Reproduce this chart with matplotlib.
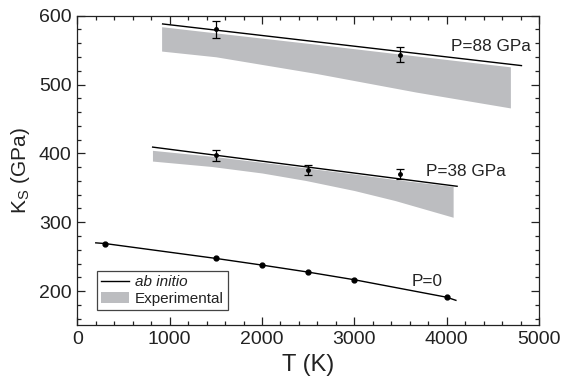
import matplotlib
matplotlib.use("Agg")
import matplotlib.pyplot as plt
from matplotlib.lines import Line2D
from matplotlib.patches import Patch
from matplotlib.ticker import MultipleLocator

plt.rcParams['font.family'] = ['Liberation Sans', 'DejaVu Sans']

# ab initio adiabatic bulk modulus curves (T in K, K_S in GPa)
t_line_p0 = [200, 300, 1500, 2000, 2500, 3000, 4000, 4100]
k_line_p0 = [270.0, 269.0, 247.4, 237.7, 227.5, 216.4, 191.0, 186.5]
t_pts_p0 = [300, 1500, 2000, 2500, 3000, 4000]
k_pts_p0 = [269.0, 247.4, 237.7, 227.5, 216.4, 191.0]

t_line_p38 = [816, 4113]
k_line_p38 = [409.1, 352.2]
t_pts_p38 = [1500, 2500, 3500]
k_pts_p38 = [397.0, 375.8, 370.0]
err_p38 = [8.5, 7.5, 7.5]

t_line_p88 = [924, 4810]
k_line_p88 = [588.0, 527.5]
t_pts_p88 = [1500, 3500]
k_pts_p88 = [580.2, 543.6]
err_p88 = [12.0, 11.0]

# experimental ranges
t_exp_p38 = [814, 1450, 2000, 2470, 3000, 3440, 4070]
k_exp_p38_hi = [404.4, 396.0, 387.0, 379.0, 370.0, 362.0, 352.0]
k_exp_p38_lo = [388.8, 381.0, 371.5, 360.7, 346.0, 331.5, 307.2]

t_exp_p88 = [913, 1500, 2590, 3670, 4690]
k_exp_p88_hi = [584.0, 575.0, 558.5, 541.5, 525.7]
k_exp_p88_lo = [548.6, 540.3, 516.0, 489.0, 466.0]

band_color = '#bcbdc0'
ink = '#222222'

fig = plt.figure(figsize=(5.65, 3.78), dpi=100)
ax = fig.add_axes([0.1368, 0.1390, 0.8172, 0.8195])

for t, lo, hi in [(t_exp_p38, k_exp_p38_lo, k_exp_p38_hi),
                  (t_exp_p88, k_exp_p88_lo, k_exp_p88_hi)]:
    ax.fill_between(t, lo, hi, color=band_color, linewidth=0, zorder=1)

ax.plot(t_line_p0, k_line_p0, color='black', lw=1.0, zorder=3)
ax.plot(t_pts_p0, k_pts_p0, 'o', color='black', ms=3.5, zorder=4)

ax.plot(t_line_p38, k_line_p38, color='black', lw=1.0, zorder=3)
ax.errorbar(t_pts_p38, k_pts_p38, yerr=err_p38, fmt='o', color='black',
            ms=2.5, elinewidth=0.9, capsize=3, capthick=0.9, zorder=4)

ax.plot(t_line_p88, k_line_p88, color='black', lw=1.0, zorder=3)
ax.errorbar(t_pts_p88, k_pts_p88, yerr=err_p88, fmt='o', color='black',
            ms=2.5, elinewidth=0.9, capsize=3, capthick=0.9, zorder=4)

ax.text(4051, 548.5, 'P=88 GPa', fontsize=12.3, ha='left', va='baseline', color=ink)
ax.text(3780, 366.7, 'P=38 GPa', fontsize=12.3, ha='left', va='baseline', color=ink)
ax.text(3618, 207.7, 'P=0', fontsize=12.3, ha='left', va='baseline', color=ink)

ax.set_xlim(0, 5000)
ax.set_ylim(150, 600)
ax.xaxis.set_major_locator(MultipleLocator(1000))
ax.xaxis.set_minor_locator(MultipleLocator(200))
ax.yaxis.set_major_locator(MultipleLocator(100))
ax.yaxis.set_minor_locator(MultipleLocator(20))
ax.tick_params(which='both', direction='in', top=True, right=True,
               width=0.9, labelsize=14, colors=ink)
ax.tick_params(which='major', length=6, pad=4)
ax.tick_params(which='minor', length=3)
for sp in ax.spines.values():
    sp.set_linewidth(0.9)
    sp.set_color(ink)

ax.set_xlabel('T (K)', fontsize=17, labelpad=4, color=ink)
ax.set_ylabel(r'K$_{\mathregular{S}}$ (GPa)', fontsize=15, labelpad=5, color=ink)

handles = [Line2D([], [], color='black', lw=1.0),
           Patch(facecolor=band_color, edgecolor='none')]
leg = ax.legend(handles, ['ab initio', 'Experimental'], loc='upper left',
                bbox_to_anchor=(0.042, 0.177), borderaxespad=0, fontsize=11,
                frameon=True, fancybox=False, framealpha=1,
                handlelength=1.8, handletextpad=0.4, borderpad=0.3,
                labelspacing=0.15)
leg.get_frame().set_edgecolor('#444444')
leg.get_frame().set_linewidth(0.9)
for txt in leg.get_texts():
    txt.set_color(ink)
leg.get_texts()[0].set_fontstyle('italic')

fig.savefig('out.png', dpi=100)
